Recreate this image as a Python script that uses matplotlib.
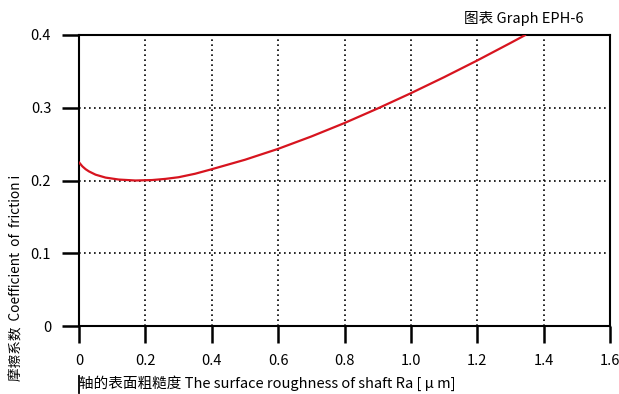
import matplotlib
matplotlib.use("Agg")
import matplotlib.pyplot as plt
from matplotlib.lines import Line2D

plt.rcParams['font.family'] = ['Noto Sans CJK SC', 'DejaVu Sans']

# Shaft surface roughness Ra [μm] vs. coefficient of friction
roughness = [0.0, 0.01, 0.02, 0.03, 0.05, 0.08, 0.12, 0.17, 0.22, 0.26, 0.30,
             0.35, 0.40, 0.50, 0.60, 0.70, 0.80, 0.90, 1.00, 1.10, 1.20,
             1.30, 1.345]
friction = [0.225, 0.2195, 0.2155, 0.2125, 0.208, 0.204, 0.2013, 0.200,
            0.2006, 0.2022, 0.2045, 0.2093, 0.2155, 0.2285, 0.2435, 0.2605,
            0.279, 0.299, 0.320, 0.342, 0.365, 0.389, 0.400]

x_ticks = [0, 0.2, 0.4, 0.6, 0.8, 1.0, 1.2, 1.4, 1.6]
x_tick_labels = ['0', '0.2', '0.4', '0.6', '0.8', '1.0', '1.2', '1.4', '1.6']
y_ticks = [0, 0.1, 0.2, 0.3, 0.4]
y_tick_labels = ['0', '0.1', '0.2', '0.3', '0.4']

W, H = 619, 394
fig = plt.figure(figsize=(W / 100, H / 100), dpi=100)
ax = fig.add_axes([79 / W, (H - 326) / H, (610 - 79) / W, (326 - 35) / H])

ax.plot(roughness, friction, color='#d7141f', lw=1.6, solid_capstyle='round',
        solid_joinstyle='round', zorder=3)

ax.set_xlim(0, 1.6)
ax.set_ylim(0, 0.4)
ax.set_xticks(x_ticks)
ax.set_xticklabels(x_tick_labels)
ax.set_yticks(y_ticks)
ax.set_yticklabels(y_tick_labels)

ax.grid(True, color='black', linestyle=(0, (1, 2)), lw=1.2)
for s in ax.spines.values():
    s.set_linewidth(1.5)
    s.set_color('black')
ax.tick_params(axis='both', direction='out', length=12, width=1.8,
               labelsize=10.5, colors='black')
ax.tick_params(axis='x', pad=8)
ax.tick_params(axis='y', pad=8)

fig.text(16 / W, (H - 278) / H, '摩擦系数  Coefficient  of  friction i',
         rotation=90, ha='center', va='center', fontsize=9.8)
fig.text(79 / W, (H - 383) / H,
         '轴的表面粗糙度 The surface roughness of shaft Ra [ μ m]',
         ha='left', va='center', fontsize=10.5)
fig.text(583 / W, (H - 18) / H, '图表 Graph EPH-6',
         ha='right', va='center', fontsize=10.5)

# small marker stroke under the x axis origin
fig.add_artist(Line2D([79 / W, 79 / W], [(H - 376) / H, (H - 393) / H],
                      transform=fig.transFigure, color='black', lw=1.3))

fig.savefig('out.png', dpi=100)
